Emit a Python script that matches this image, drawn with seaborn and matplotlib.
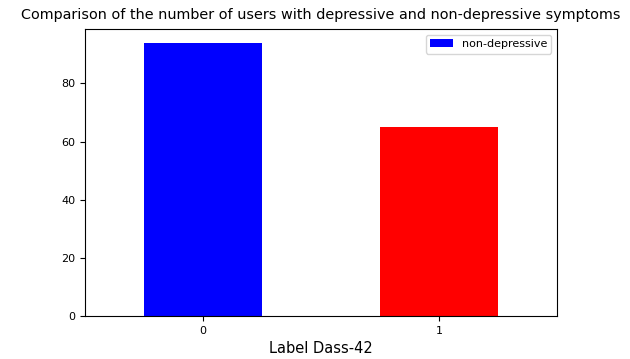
import matplotlib
matplotlib.use("Agg")
import matplotlib.pyplot as plt
import seaborn as sns

# Data
labels = ["0", "1"]
counts = [94, 65]
colors = ["blue", "red"]

fig = plt.figure(figsize=(6.3, 3.59), dpi=100)
ax = fig.add_axes([0.135, 0.12, 0.749, 0.799])

sns.barplot(x=labels, y=counts, hue=labels, palette=colors, saturation=1,
            width=0.5, legend=False, ax=ax)

ax.set_xlim(-0.5, 1.5)
ax.set_ylim(0, max(counts) * 1.05)
ax.tick_params(labelsize=8)
ax.set_xlabel("Label Dass-42", fontsize=10.5)
ax.set_ylabel("")
ax.set_title("Comparison of the number of users with depressive and non-depressive symptoms",
             fontsize=10.4, pad=7)
ax.legend([ax.patches[0]], ["non-depressive"], fontsize=8, loc="upper right")

fig.savefig("out.png", dpi=100)
